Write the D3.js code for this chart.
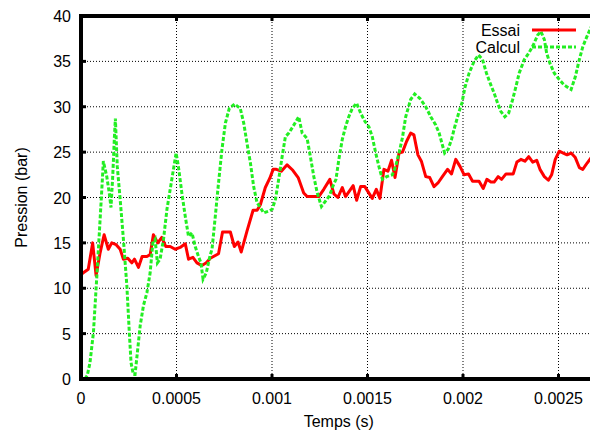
<!DOCTYPE html>
<html>
<head>
<meta charset="utf-8">
<script src="https://cdn.jsdelivr.net/npm/d3@7"></script>
<style>
  html, body { margin: 0; padding: 0; background: #fff; }
  svg { display: block; font-family: "Liberation Sans", Arial, Helvetica, sans-serif; }
</style>
</head>
<body>
<svg id="chart" width="590" height="434"></svg>
<script>
// ---- Data (time in microseconds, pressure in bar) ----
const tempsEssaiUs = [0,12,38,61,79,100,121,143,161,184,205,222,245,266,280,301,320,345,362,379,402,423,444,467,493,519,546,563,586,607,633,656,677,720,741,782,803,822,839,869,901,922,939,965,988,1006,1023,1049,1079,1109,1137,1166,1184,1245,1271,1303,1324,1345,1368,1385,1425,1443,1464,1486,1525,1546,1565,1586,1607,1626,1644,1665,1683,1705,1726,1743,1764,1782,1805,1826,1848,1869,1892,1919,1940,1962,1985,2006,2029,2050,2084,2106,2125,2146,2163,2184,2202,2225,2263,2282,2303,2324,2344,2365,2386,2403,2426,2447,2464,2483,2504,2525,2545,2566,2588,2609,2627,2650,2671];
const pressionEssai = [11.5,11.7,12.1,15.0,11.4,13.9,15.9,14.3,15.0,14.8,14.3,13.2,13.3,12.8,13.2,12.3,13.5,13.5,13.7,15.9,15.0,15.6,14.6,14.6,14.3,14.5,14.9,13.2,13.4,12.8,12.5,12.8,13.3,13.8,16.2,16.2,14.6,15.1,14.0,16.3,18.6,18.6,19.2,21.1,22.1,23.1,23.1,22.9,23.6,23.0,22.2,20.5,20.1,20.1,20.9,22.0,20.4,20.0,21.1,20.1,21.3,19.7,21.2,21.2,19.9,20.9,19.9,23.1,22.9,24.1,22.2,24.9,25.0,26.2,27.1,26.9,24.7,24.0,22.3,22.2,21.2,21.6,22.3,23.1,22.6,24.2,23.4,22.5,22.6,21.8,21.8,21.0,22.0,21.7,21.7,22.3,22.0,22.6,22.6,23.9,24.2,24.0,24.5,23.9,24.1,23.1,22.3,21.9,22.5,24.2,25.1,24.9,24.7,24.9,24.4,23.3,23.1,23.8,24.4];

const tempsCalculUs = [20,33,47,65,82,96,109,117,135,148,157,166,175,180,190,205,222,240,253,262,274,283,295,310,327,345,362,376,388,400,414,432,450,467,484,498,510,528,546,563,581,598,615,628,639,656,677,686,703,720,738,756,776,804,834,852,869,887,904,922,939,956,983,1001,1018,1035,1053,1070,1088,1109,1126,1140,1158,1184,1201,1219,1237,1259,1280,1301,1320,1335,1350,1368,1385,1402,1420,1443,1464,1486,1507,1525,1543,1560,1578,1600,1630,1647,1665,1683,1700,1726,1747,1775,1805,1831,1857,1875,1892,1904,1922,1940,1957,1980,1994,2011,2032,2058,2081,2102,2123,2142,2163,2181,2198,2219,2239,2260,2277,2294,2321,2344,2368,2391,2408,2426,2438,2455,2478,2504,2530,2566,2588,2609,2627,2648,2671];
const pressionCalcul = [0.0,0.4,1.8,5.1,11.0,16.1,20.9,24.0,22.3,20.5,18.9,22.3,26.7,28.7,23.4,19.8,15.4,10.3,5.1,1.8,0.5,0.5,2.9,5.9,8.1,9.5,11.7,15.0,15.4,12.8,13.2,15.4,18.7,20.9,23.1,24.9,23.4,20.5,17.9,15.7,16.1,14.6,13.5,12.8,11.0,11.7,13.7,14.3,17.9,21.6,25.3,28.2,29.8,30.3,29.8,28.2,26.0,23.8,21.2,19.4,18.9,18.3,18.5,18.7,19.8,22.0,24.5,26.7,27.1,27.8,28.4,28.9,27.1,26.5,24.5,22.3,20.5,19.0,19.6,20.2,21.3,22.0,24.2,26.4,27.8,28.9,29.8,30.4,29.3,28.4,27.8,26.7,24.9,23.4,22.0,22.3,22.5,23.4,24.9,26.6,28.9,30.8,31.4,30.9,30.0,28.9,28.0,27.1,25.8,24.9,25.3,26.4,27.8,29.5,30.4,32.2,33.7,35.0,35.7,35.2,33.7,32.6,31.5,30.4,29.5,28.9,29.3,30.8,32.2,33.7,35.2,35.9,36.8,37.9,38.3,37.4,35.9,34.8,33.7,33.0,32.4,31.9,33.3,35.2,36.6,37.7,38.8];

const xTicks = [0, 0.0005, 0.001, 0.0015, 0.002, 0.0025];
const xTickLabels = ["0", "0.0005", "0.001", "0.0015", "0.002", "0.0025"];
const yTicks = [0, 5, 10, 15, 20, 25, 30, 35, 40];
const yTickLabels = ["0", "5", "10", "15", "20", "25", "30", "35", "40"];
const seriesNames = ["Essai", "Calcul"];

(function () {
  const svg = d3.select("#chart");
  const pLeft = 81, pTop = 16, pBottom = 379;
  const xMax = 0.0027;
  const x = d3.scaleLinear().domain([0, xMax]).range([pLeft, pLeft + xMax / 0.0005 * 95.5]);
  const y = d3.scaleLinear().domain([0, 40]).range([pBottom, pTop]);
  const pRight = x(xMax);

  const essai = tempsEssaiUs.map((t, i) => ({ t: t * 1e-6, p: pressionEssai[i] }));
  const calcul = tempsCalculUs.map((t, i) => ({ t: t * 1e-6, p: pressionCalcul[i] }));

  // grid
  const grid = svg.append("g");
  grid.selectAll("line.gx").data(xTicks.filter(d => d > 0)).enter().append("line")
    .attr("x1", d => x(d)).attr("x2", d => x(d)).attr("y1", pTop).attr("y2", pBottom)
    .attr("stroke", "#000").attr("stroke-width", 1).attr("stroke-dasharray", "1,2");
  grid.selectAll("line.gy").data(yTicks.filter(d => d > 0 && d < 40)).enter().append("line")
    .attr("x1", pLeft).attr("x2", pRight).attr("y1", d => y(d)).attr("y2", d => y(d))
    .attr("stroke", "#000").attr("stroke-width", 1).attr("stroke-dasharray", "1,2");

  svg.append("clipPath").attr("id", "clip").append("rect")
    .attr("x", pLeft).attr("y", pTop).attr("width", pRight - pLeft).attr("height", pBottom - pTop);

  const line = d3.line().x(d => x(d.t)).y(d => y(d.p));
  const plot = svg.append("g").attr("clip-path", "url(#clip)");
  plot.append("path").datum(essai).attr("d", line)
    .attr("fill", "none").attr("stroke", "#ff0000").attr("stroke-width", 3).attr("stroke-linejoin", "round");
  plot.append("path").datum(calcul).attr("d", line)
    .attr("fill", "none").attr("stroke", "#22ee22").attr("stroke-width", 3).attr("stroke-dasharray", "4,2");

  // border
  svg.append("rect").attr("x", pLeft).attr("y", pTop).attr("width", pRight - pLeft).attr("height", pBottom - pTop)
    .attr("fill", "none").attr("stroke", "#000").attr("stroke-width", 4);

  // inward ticks
  const tk = svg.append("g").attr("stroke", "#000").attr("stroke-width", 3);
  xTicks.forEach(d => {
    tk.append("line").attr("x1", x(d)).attr("x2", x(d)).attr("y1", pBottom).attr("y2", pBottom - 5);
    tk.append("line").attr("x1", x(d)).attr("x2", x(d)).attr("y1", pTop).attr("y2", pTop + 5);
  });
  yTicks.forEach(d => {
    tk.append("line").attr("x1", pLeft).attr("x2", pLeft + 5).attr("y1", y(d)).attr("y2", y(d));
  });

  // tick labels
  svg.append("g").selectAll("text").data(xTicks).enter().append("text")
    .attr("x", d => x(d)).attr("y", 404).attr("text-anchor", "middle")
    .attr("font-size", 16).attr("fill", "#000").text((d, i) => xTickLabels[i]);
  svg.append("g").selectAll("text").data(yTicks).enter().append("text")
    .attr("x", 71).attr("y", d => y(d) + 6).attr("text-anchor", "end")
    .attr("font-size", 16).attr("fill", "#000").text((d, i) => yTickLabels[i]);

  // axis titles
  svg.append("text").attr("x", (pLeft + pRight) / 2).attr("y", 427).attr("text-anchor", "middle")
    .attr("font-size", 16).attr("fill", "#000").text("Temps (s)");
  svg.append("text").attr("transform", `translate(27,${(pTop + pBottom) / 2}) rotate(-90)`)
    .attr("text-anchor", "middle").attr("font-size", 16).attr("fill", "#000").text("Pression (bar)");

  // legend
  const lg = svg.append("g");
  lg.append("text").attr("x", 520).attr("y", 36).attr("text-anchor", "end").attr("font-size", 16).text(seriesNames[0]);
  lg.append("line").attr("x1", 532).attr("x2", 576).attr("y1", 30).attr("y2", 30)
    .attr("stroke", "#ff0000").attr("stroke-width", 3);
  lg.append("text").attr("x", 520).attr("y", 53).attr("text-anchor", "end").attr("font-size", 16).text(seriesNames[1]);
  lg.append("line").attr("x1", 532).attr("x2", 576).attr("y1", 47).attr("y2", 47)
    .attr("stroke", "#22ee22").attr("stroke-width", 3).attr("stroke-dasharray", "4,2");
})();
</script>
</body>
</html>
